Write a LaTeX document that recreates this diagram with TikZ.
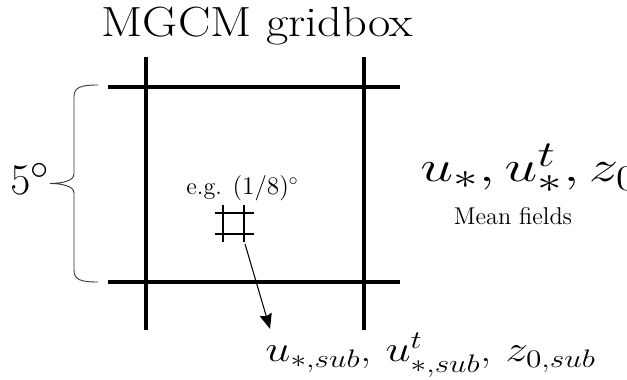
\documentclass[tikz,border=0pt]{standalone}
\usepackage{tikz}
\usetikzlibrary{arrows.meta, positioning, decorations.pathreplacing}
\usepackage{amsmath}

\begin{document}
\begin{tikzpicture}[>=Stealth,
    gridline/.style={line width=2.8pt},
    fineline/.style={line width=0.6pt},
    wide/.style={inner sep=0pt, xscale=1.15},
    smalltext/.style={inner sep=0pt, font=\fontsize{13.8}{16}\selectfont}]
  \useasboundingbox (0,0) rectangle (12.54,7.6);

  % Title
  \node[wide, anchor=base, font=\fontsize{24}{28}\selectfont] (title) at (5.15,6.86) {MGCM gridbox};

  % Coarse gridbox
  \foreach \y in {5.86, 1.96} {
    \draw[gridline] (2.16,\y) -- (8.0,\y);
  }
  \foreach \x in {2.92, 7.28} {
    \draw[gridline] (\x,1.0) -- (\x,6.46);
  }

  % Brace for the box size
  \draw[line width=0.5pt, black!80]
    (1.96,5.9) .. controls (1.6,5.9) and (1.48,5.85) .. (1.48,5.66)
    -- (1.48,4.12) .. controls (1.48,3.97) and (1.2,3.93) .. (1.0,3.93)
    .. controls (1.2,3.93) and (1.48,3.89) .. (1.48,3.74)
    -- (1.48,2.2) .. controls (1.48,2.01) and (1.6,1.96) .. (1.96,1.96);
  \node[inner sep=0pt, anchor=base east, font=\fontsize{24.88}{30}\selectfont] (res) at (1.0,3.7) {$5^\circ$};

  % Fine sub-grid cell
  \foreach \x in {4.46, 4.88} {
    \draw[fineline] (\x,2.76) -- (\x,3.5);
  }
  \foreach \y in {2.92, 3.34} {
    \draw[fineline] (4.3,\y) -- (5.08,\y);
  }
  \coordinate (cell) at (4.9,2.72);
  \node[smalltext, anchor=base] (fine) at (4.85,3.7) {e.g. $(1/8)^\circ$};

  % Mean fields
  \node[wide, xscale=1.17, anchor=base west, font=\fontsize{24.88}{30}\selectfont] (mean) at (8.4,3.96) {$u_*, u^t_*, z_0$};
  \node[smalltext, anchor=base] (meanlbl) at (10.26,3.1) {Mean fields};

  % Sub-grid fields
  \node[wide, xscale=1.075, anchor=base west, font=\fontsize{20.74}{26}\selectfont] (sub) at (5.3,0.36)
    {$u_{*,sub}$, $u^t_{*,sub}$, $z_{0,sub}$};
  \draw[->, fineline, >={Stealth[length=8.5pt, width=7pt, inset=1pt]}]
    (cell) -- ([shift={(0.1,0.08)}]sub.north west);
\end{tikzpicture}
\end{document}
